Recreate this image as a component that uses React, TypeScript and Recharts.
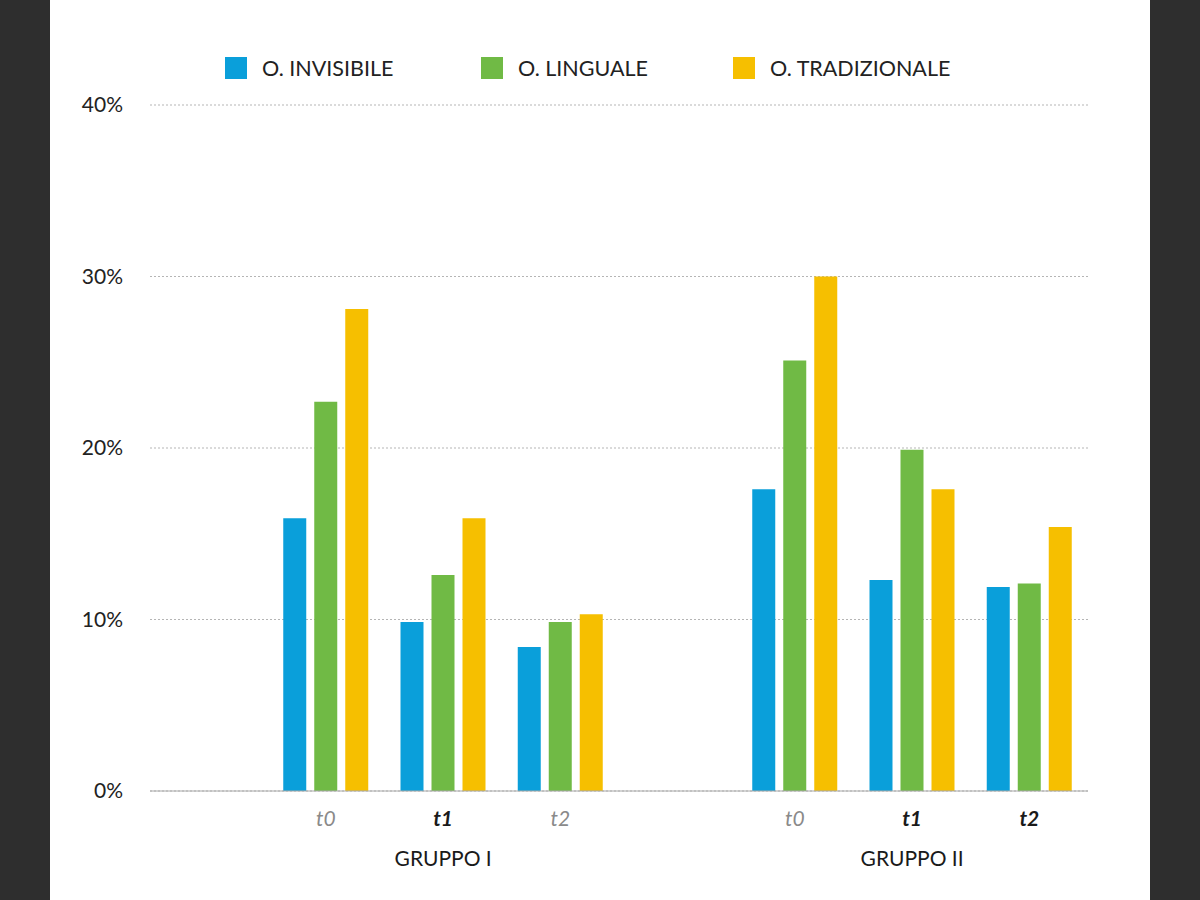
import React from "react";
import { BarChart, Bar, XAxis, YAxis, CartesianGrid, Legend } from "recharts";

const categories = ["", "t0", "t1", "t2", "", "t0", "t1", "t2"];
const groupLabels = ["", "", "GRUPPO I", "", "", "", "GRUPPO II", ""];
const invisibile = [null, 15.9, 9.85, 8.4, null, 17.6, 12.3, 11.9];
const linguale = [null, 22.7, 12.6, 9.85, null, 25.1, 19.9, 12.1];
const tradizionale = [null, 28.1, 15.9, 10.3, null, 30.0, 17.6, 15.4];
const yTicks = [0, 10, 20, 30, 40];

const seriesNames = ["O. INVISIBILE", "O. LINGUALE", "O. TRADIZIONALE"];
const colors = ["#0a9fda", "#70ba45", "#f6bf00"];
const emphasized = [false, false, true, false, false, false, true, true];

const data = categories.map((c, i) => ({
  cat: c,
  group: groupLabels[i],
  inv: invisibile[i],
  lin: linguale[i],
  tra: tradizionale[i],
}));

const FONT = "Lato, 'Open Sans', sans-serif";

const XTick = (props: any) => {
  const { x, y, index } = props;
  const d = data[index];
  if (!d) return null;
  const em = emphasized[index];
  return (
    <g>
      <text
        x={x}
        y={y + 27}
        textAnchor="middle"
        fontFamily={FONT}
        fontSize={21}
        fontStyle="italic"
        fontWeight={em ? 700 : 400}
        fill={em ? "#1a1a1a" : "#8a8a8a"}
      >
        {d.cat}
      </text>
      {d.group ? (
        <text
          x={x}
          y={y + 67}
          textAnchor="middle"
          fontFamily={FONT}
          fontSize={21}
          fill="#1a1a1a"
        >
          {d.group}
        </text>
      ) : null}
    </g>
  );
};

const YTick = (props: any) => {
  const { y, payload } = props;
  return (
    <text
      x={73}
      y={y + 7}
      textAnchor="end"
      fontFamily={FONT}
      fontSize={21}
      fill="#222"
    >
      {payload.value + "%"}
    </text>
  );
};

const LegendContent = () => (
  <div style={{ position: "relative", height: 30, fontFamily: FONT }}>
    {seriesNames.map((n, i) => (
      <div
        key={n}
        style={{
          position: "absolute",
          left: [175, 431, 683][i],
          top: 0,
          display: "flex",
          alignItems: "center",
        }}
      >
        <div style={{ width: 22, height: 22, background: colors[i] }} />
        <span style={{ marginLeft: 15, fontSize: 21.5, color: "#222", lineHeight: "22px" }}>{n}</span>
      </div>
    ))}
  </div>
);

export default function App() {
  return (
    <div
      style={{
        position: "absolute",
        left: 0,
        top: 0,
        width: 1200,
        height: 900,
        background: "#2e2e2e",
      }}
    >
      <div style={{ position: "absolute", left: 50, top: 0, width: 1100, height: 900, background: "#fff" }}>
        <BarChart
          width={1100}
          height={900}
          data={data}
          margin={{ top: 75, right: 62, left: 0, bottom: 69 }}
          barSize={23}
          barGap={8}
        >
          <CartesianGrid vertical={false} stroke="#b5b5b5" strokeDasharray="2 2" />
          <XAxis
            dataKey="cat"
            height={40}
            tickLine={false}
            axisLine={{ stroke: "#a8a8a8" }}
            tick={<XTick />}
            interval={0}
          />
          <YAxis
            width={100}
            domain={[0, 40]}
            ticks={yTicks}
            axisLine={false}
            tickLine={false}
            tick={<YTick />}
          />
          <Legend
            verticalAlign="top"
            align="left"
            content={<LegendContent />}
            wrapperStyle={{ top: 57, left: 0, width: 1100 }}
          />
          <Bar dataKey="inv" name={seriesNames[0]} fill={colors[0]} isAnimationActive={false} />
          <Bar dataKey="lin" name={seriesNames[1]} fill={colors[1]} isAnimationActive={false} />
          <Bar dataKey="tra" name={seriesNames[2]} fill={colors[2]} isAnimationActive={false} />
        </BarChart>
      </div>
    </div>
  );
}
